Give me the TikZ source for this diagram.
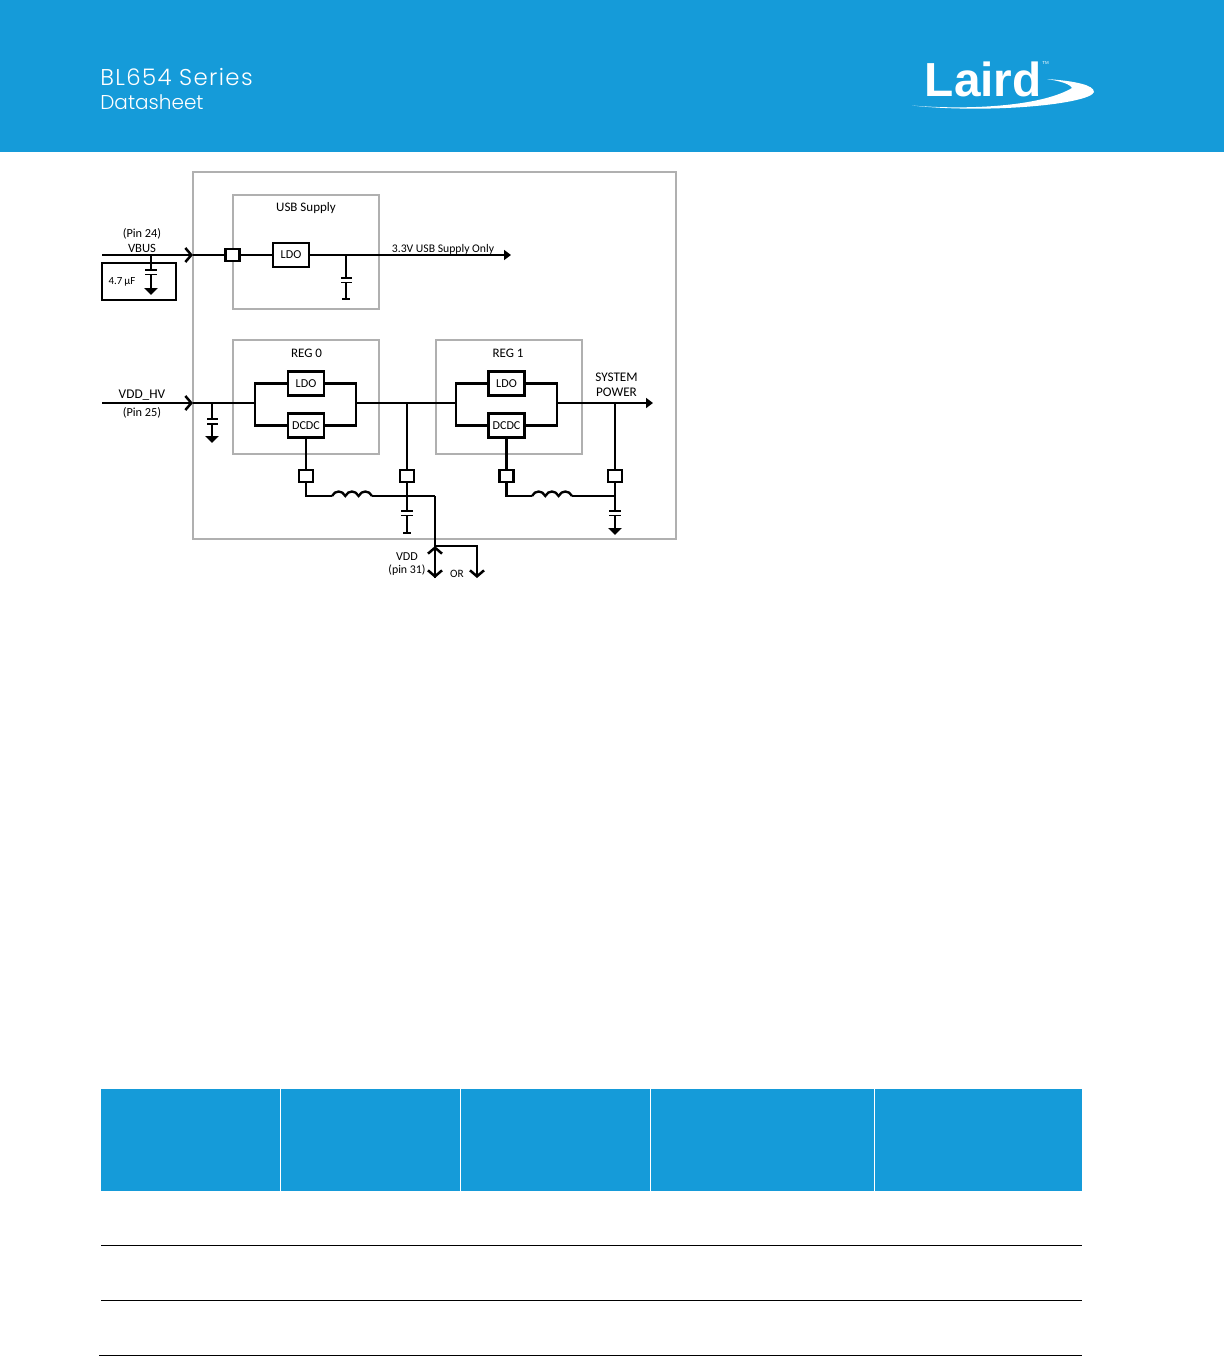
\documentclass[tikz,border=0pt]{standalone}
\usepackage{fontspec}
\setmainfont{Carlito}
\newfontfamily\headfont{Poppins Light}
\newfontfamily\logofont{Liberation Sans}
\usepackage{xcolor}
\usetikzlibrary{arrows.meta, positioning}
\definecolor{lairdblue}{HTML}{159BD9}
\definecolor{boxgrey}{HTML}{B0B0B0}

\begin{document}
\begin{tikzpicture}[
    x=0.02cm, y=-0.02cm,
    band/.style={rectangle, fill=lairdblue, inner sep=0pt, outer sep=0pt},
    block/.style={rectangle, draw=boxgrey, line width=0.056cm, inner sep=0pt, outer sep=0pt},
    regbox/.style={block, minimum width=2.92cm, minimum height=2.28cm},
    part/.style={rectangle, draw=black, line width=0.055cm, fill=white, minimum width=0.72cm, minimum height=0.48cm, inner sep=0pt, font=\fontsize{6.9}{8}\selectfont},
    pad/.style={rectangle, draw=black, line width=0.047cm, fill=white, minimum width=0.28cm, minimum height=0.24cm, inner sep=0pt},
    lbl/.style={inner sep=0pt, align=center, font=\fontsize{7.4}{9}\selectfont},
    wire/.style={line width=0.054cm, draw=black},
    thinwire/.style={line width=0.047cm, draw=black},
    inarrow/.style={wire, -{Straight Barb[length=0.12cm, width=0.28cm, line width=0.05cm]}},
    outarrow/.style={wire, -{Triangle[length=0.14cm, width=0.2cm]}},
    earth/.style={thinwire, -{Triangle[length=0.14cm, width=0.27cm]}},
    tbar/.style={thinwire, -{Bar[width=0.15cm, line width=0.035cm]}},
    plate/.style={line width=0.036cm, draw=black},
    rulerow/.style={line width=0.02cm, draw=black}
]

\useasboundingbox (0,0) rectangle (1224,1356);
\fill[white] (0,0) rectangle (1224,1356);

% page header
\node[band, anchor=north west, minimum width=24.48cm, minimum height=3.04cm] (header) at (0,0) {};
\node[anchor=base west, inner sep=0pt, text=white, font=\headfont\fontsize{13}{14}\selectfont\addfontfeature{LetterSpace=6}] (series) at (100,85) {BL654 Series};
\node[anchor=base west, inner sep=0pt, text=white, font=\headfont\fontsize{11.4}{14}\selectfont] (sheet) at (100,109) {Datasheet};
\node[anchor=base west, inner sep=0pt, text=white, font=\logofont\bfseries\fontsize{27.2}{30}\selectfont] (laird) at (924.5,96) {Laird};
\node[anchor=north west, inner sep=0pt, text=white, font=\logofont\fontsize{2.5}{3}\selectfont] (tm) at (1042,61) {TM};
\fill[white] (912,105.5) .. controls (965,110) and (1040,107) .. (1072,88)
    .. controls (1070,84) and (1060,81) .. (1047,79)
    .. controls (1075,81) and (1094,85) .. (1094,92)
    .. controls (1090,104) and (990,114) .. (912,105.5) -- cycle;

% grey blocks
\node[block, anchor=north west, minimum width=9.66cm, minimum height=7.34cm] (chip) at (193,172) {};
\node[regbox, anchor=north west] (reg0) at (233,340) {};
\node[regbox, right=1.14cm of reg0] (reg1) {};
\node[regbox, above=0.62cm of reg0] (usb) {};

\node[lbl] (usbtitle) at (306,208) {USB Supply};
\node[lbl] (reg0title) at (306.5,353) {REG 0};
\node[lbl] (reg1title) at (508,353) {REG 1};

% USB supply
\coordinate (vbusin) at (102,255);
\coordinate (vbuspin) at (193,255);
\coordinate (usbout) at (511,255);
\node[pad] (usbpad) at (232.5,255) {};
\node[part] (usbldo) at (291,255) {LDO};
\coordinate (usbcap) at (346,255);
\coordinate (usbplate) at (346,278);
\coordinate (usbplateb) at (346,282.5);
\coordinate (usbgnd) at (346,300);

\draw[inarrow] (vbusin) -- (vbuspin);
\draw[wire] (vbuspin) -- (usbpad);
\draw[wire] (usbpad) -- (usbldo);
\draw[outarrow] (usbldo) -- (usbout);
\draw[thinwire] (usbcap) -- (usbplate);
\draw[tbar] (usbplateb) -- (usbgnd);
\draw[plate] (341,278) -- (352,278);
\draw[plate] (341,282.5) -- (352,282.5);

\node[lbl, font=\fontsize{7}{9}\selectfont] (pin24) at (142,233.5) {(Pin 24)};
\node[lbl, font=\fontsize{7.2}{9}\selectfont] (vbus) at (142,248) {VBUS};
\node[lbl, font=\fontsize{6.65}{8}\selectfont] (supply) at (443,249) {3.3V USB Supply Only};

% external capacitor on VBUS
\node[rectangle, draw=black, line width=0.055cm, anchor=north west, outer sep=0pt, minimum width=1.48cm, minimum height=0.74cm, inner sep=0pt] (extbox) at (102,263) {};
\node[lbl, font=\fontsize{6.2}{8}\selectfont] (extval) at (122,281.5) {4.7\,µF};
\coordinate (extcap) at (151,255);
\coordinate (extplate) at (151,270);
\coordinate (extplateb) at (151,274.5);
\coordinate (extgnd) at (151,295);
\draw[thinwire] (extcap) -- (extplate);
\draw[earth] (extplateb) -- (extgnd);
\draw[plate] (145,270) -- (157,270);
\draw[plate] (145,274.5) -- (157,274.5);

% high voltage input
\coordinate (hvin) at (102,403);
\coordinate (hvpin) at (193,403);
\coordinate (hvcap) at (212,403);
\coordinate (hvplate) at (212,419);
\coordinate (hvplateb) at (212,424);
\coordinate (hvgnd) at (212,443);
\draw[inarrow] (hvin) -- (hvpin);
\draw[thinwire] (hvcap) -- (hvplate);
\draw[earth] (hvplateb) -- (hvgnd);
\draw[plate] (207,419) -- (218,419);
\draw[plate] (207,424) -- (218,424);

\node[lbl, font=\fontsize{7.6}{9}\selectfont] (hvname) at (142,395.5) {VDD\_HV};
\node[lbl, font=\fontsize{7}{9}\selectfont] (pin25) at (142,412.5) {(Pin 25)};

% REG 0
\node[part] (ldo0) at (306,383.5) {LDO};
\node[part, below=0.3cm of ldo0] (dcdc0) {DCDC};
\coordinate (in0) at (255,403);
\coordinate (out0) at (356,403);
\draw[wire] (hvpin) -- (in0);
\draw[wire] (in0) |- (ldo0);
\draw[wire] (in0) |- (dcdc0);
\draw[wire] (out0) |- (ldo0);
\draw[wire] (out0) |- (dcdc0);

% REG 1
\node[part] (ldo1) at (506.5,383.5) {LDO};
\node[part, below=0.3cm of ldo1] (dcdc1) {DCDC};
\coordinate (in1) at (456,403);
\coordinate (out1) at (557,403);
\coordinate (sysout) at (653,403);
\draw[wire] (out0) -- (in1);
\draw[wire] (in1) |- (ldo1);
\draw[wire] (in1) |- (dcdc1);
\draw[wire] (out1) |- (ldo1);
\draw[wire] (out1) |- (dcdc1);
\draw[outarrow] (out1) -- (sysout);

\node[lbl, font=\fontsize{7.5}{9}\selectfont] (system) at (616.5,377) {SYSTEM};
\node[lbl, font=\fontsize{7.5}{9}\selectfont] (power) at (616.5,392) {POWER};

% DCDC 0 output
\node[pad] (pad0) at (306,476) {};
\node[pad] (padfb0) at (407,476) {};
\coordinate (coil0a) at (332,496);
\coordinate (coil0b) at (372,496);
\coordinate (vddturn) at (435,496);
\coordinate (fb0) at (407,403);
\coordinate (plate0) at (407,511);
\coordinate (plate0b) at (407,515.5);
\coordinate (gnd0) at (407,534);
\coordinate (vddfork) at (435,546);
\coordinate (vddout) at (435,578);
\coordinate (orturn) at (477,546);
\coordinate (orout) at (477,578);
\draw[wire] (dcdc0) -- (pad0);
\draw[wire] (pad0) |- (coil0a);
\draw[thinwire] (coil0a)
    .. controls +(3,-6) and +(-3,-6) .. ++(13.3,0)
    .. controls +(3,-6) and +(-3,-6) .. ++(13.3,0)
    .. controls +(3,-6) and +(-3,-6) .. (coil0b);
\draw[wire] (coil0b) -- (vddturn);
\draw[thinwire] (fb0) -- (padfb0);
\draw[thinwire] (padfb0) -- (plate0);
\draw[tbar] (plate0b) -- (gnd0);
\draw[plate] (401,511) -- (413,511);
\draw[plate] (401,515.5) -- (413,515.5);
\draw[thinwire] (vddturn) -- (vddfork);
\draw[inarrow, line width=0.047cm] (vddfork) -- (vddout);
\draw[inarrow, line width=0.047cm] (vddout) -- (vddfork);
\draw[inarrow, line width=0.047cm] (vddfork) -- (orturn) -- (orout);

\node[lbl, font=\fontsize{6.9}{8}\selectfont] (vddname) at (407,557) {VDD};
\node[lbl, font=\fontsize{6.75}{8}\selectfont] (pin31) at (407,570.5) {(pin 31)};
\node[lbl, font=\fontsize{6.4}{8}\selectfont] (ortext) at (457,573.5) {OR};

% DCDC 1 output
\node[pad] (pad1) at (506.5,476) {};
\node[pad] (padfb1) at (615,476) {};
\coordinate (coil1a) at (532,496);
\coordinate (coil1b) at (572,496);
\coordinate (fb1) at (615,403);
\coordinate (tee1) at (615,496);
\coordinate (plate1) at (615,511);
\coordinate (plate1b) at (615,515.5);
\coordinate (gnd1) at (615,535);
\draw[wire] (dcdc1) -- (pad1);
\draw[wire] (pad1) |- (coil1a);
\draw[thinwire] (coil1a)
    .. controls +(3,-6) and +(-3,-6) .. ++(13.3,0)
    .. controls +(3,-6) and +(-3,-6) .. ++(13.3,0)
    .. controls +(3,-6) and +(-3,-6) .. (coil1b);
\draw[wire] (coil1b) -- (tee1);
\draw[thinwire] (fb1) -- (padfb1);
\draw[thinwire] (padfb1) -- (plate1);
\draw[earth] (plate1b) -- (gnd1);
\draw[plate] (609,511) -- (621,511);
\draw[plate] (609,515.5) -- (621,515.5);

% table head and rules
\fill[lairdblue] (101,1089) rectangle (1082,1191);
\foreach \sep in {280.5, 460.5, 650.5, 874.5}
    \draw[white, line width=0.03cm] (\sep,1089) -- (\sep,1191);
\draw[rulerow] (101,1245.5) -- (1082,1245.5);
\draw[rulerow] (101,1300.5) -- (1082,1300.5);
\draw[rulerow] (99,1355.5) -- (1082,1355.5);

\end{tikzpicture}
\end{document}
